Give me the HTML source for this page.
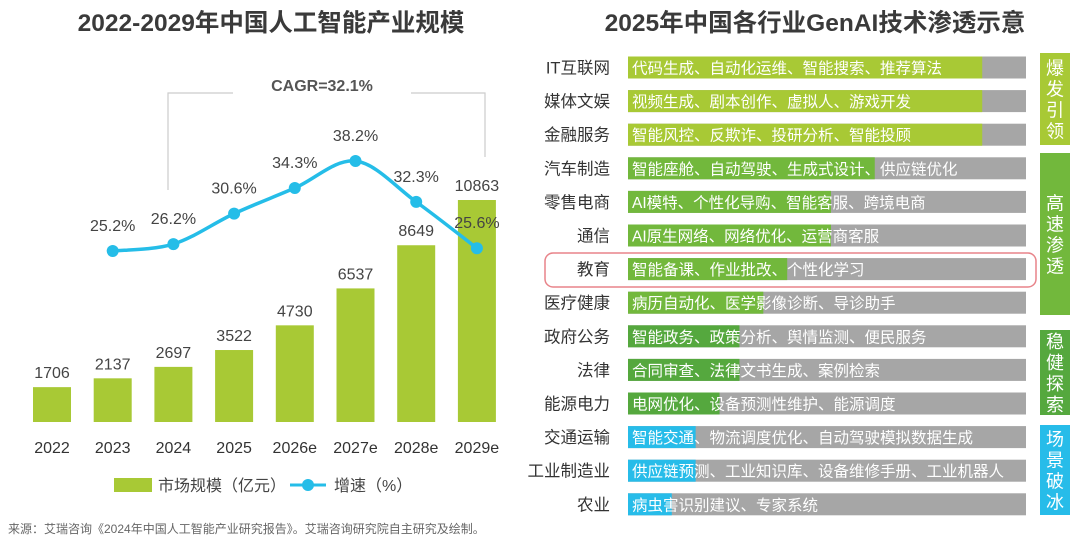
<!DOCTYPE html>
<html><head><meta charset="utf-8"><style>
body{margin:0;width:1080px;height:543px;background:#fff;overflow:hidden;font-family:"Liberation Sans","Noto Sans CJK SC",sans-serif;}
svg{position:absolute;left:0;top:0}
</style></head><body>
<svg id="s" width="1080" height="543" xmlns="http://www.w3.org/2000/svg">
<text x="271" y="31" text-anchor="middle" font-size="24.5" font-weight="bold" fill="#3a3a3a">2022-2029年中国人工智能产业规模</text>
<text x="815" y="31" text-anchor="middle" font-size="24.5" font-weight="bold" fill="#3a3a3a">2025年中国各行业GenAI技术渗透示意</text>
<g stroke="#ccc" fill="none" stroke-width="1.2">
<polyline points="168,190 168,93 233,93"/><polyline points="411,93 485,93 485,157"/>
</g>
<text x="322" y="91" text-anchor="middle" font-size="16" font-weight="bold" fill="#555">CAGR=32.1%</text>
<g id="left"></g><g id="right"></g>
<g>
<rect x="114" y="478" width="38" height="14" fill="#a8c935"/>
<text x="158" y="491" font-size="16" fill="#444">市场规模（亿元）</text>
<line x1="290" y1="485" x2="326" y2="485" stroke="#25bde8" stroke-width="3"/>
<circle cx="308" cy="485" r="6" fill="#25bde8"/>
<text x="334" y="491" font-size="16" fill="#444">增速（%）</text>
</g>
<rect x="545" y="253" width="491" height="34" rx="8" fill="none" stroke="#e8848a" stroke-width="1.5"/>
<text x="8" y="533" font-size="12" fill="#666">来源：艾瑞咨询《2024年中国人工智能产业研究报告》。艾瑞咨询研究院自主研究及绘制。</text>
</svg>
<script>
const years=["2022","2023","2024","2025","2026e","2027e","2028e","2029e"];
const sizes=[1706,2137,2697,3522,4730,6537,8649,10863];
const growth=[null,25.2,26.2,30.6,34.3,38.2,32.3,25.6];
const industries=["IT互联网","媒体文娱","金融服务","汽车制造","零售电商","通信","教育","医疗健康","政府公务","法律","能源电力","交通运输","工业制造业","农业"];
const apps=["代码生成、自动化运维、智能搜索、推荐算法","视频生成、剧本创作、虚拟人、游戏开发","智能风控、反欺诈、投研分析、智能投顾","智能座舱、自动驾驶、生成式设计、供应链优化","AI模特、个性化导购、智能客服、跨境电商","AI原生网络、网络优化、运营商客服","智能备课、作业批改、个性化学习","病历自动化、医学影像诊断、导诊助手","智能政务、政策分析、舆情监测、便民服务","合同审查、法律文书生成、案例检索","电网优化、设备预测性维护、能源调度","智能交通、物流调度优化、自动驾驶模拟数据生成","供应链预测、工业知识库、设备维修手册、工业机器人","病虫害识别建议、专家系统"];
const penetration=[89,89,89,62,51,51,40,34,28,28,23,17,17,11];
const groupOf=[0,0,0,1,1,1,1,1,2,2,2,3,3,3];
const groupNames=["爆发引领","高速渗透","稳健探索","场景破冰"];
const NS="http://www.w3.org/2000/svg";
function mk(t,a,p,txt){const e=document.createElementNS(NS,t);for(const k in a)e.setAttribute(k,a[k]);if(txt!=null)e.textContent=txt;p.appendChild(e);return e;}
const L=document.getElementById('left'),R=document.getElementById('right');
const xC=i=>52+i*60.7, base=422, yS=v=>base-v*222/10863, yG=v=>251-(v-25.2)*6.92;
years.forEach((y,i)=>{
 const b=mk('rect',{x:xC(i)-19,y:yS(sizes[i]),width:38,height:base-yS(sizes[i]),fill:'#a8c935'},L);
 
 
 const t=mk('text',{x:xC(i),y:yS(sizes[i])-9,'text-anchor':'middle','font-size':16,fill:'#444'},L,String(sizes[i]));
 
 
 const xl=mk('text',{x:xC(i),y:453,'text-anchor':'middle','font-size':16,fill:'#333'},L,y);
 
 
});
const pts=[];growth.forEach((g,i)=>{if(g!=null)pts.push([xC(i),yG(g),g,years[i]]);});
let d='M'+pts[0][0]+','+pts[0][1];
for(let i=0;i<pts.length-1;i++){const p0=pts[Math.max(0,i-1)],p1=pts[i],p2=pts[i+1],p3=pts[Math.min(pts.length-1,i+2)];
 d+=` C${p1[0]+(p2[0]-p0[0])/6},${p1[1]+(p2[1]-p0[1])/6} ${p2[0]-(p3[0]-p1[0])/6},${p2[1]-(p3[1]-p1[1])/6} ${p2[0]},${p2[1]}`;}
const ln=mk('path',{d:d,fill:'none',stroke:'#25bde8','stroke-width':3.5},L);


pts.forEach(p=>{
 const c=mk('circle',{cx:p[0],cy:p[1],r:6,fill:'#25bde8'},L);
 
 
 const t=mk('text',{x:p[0],y:p[1]-20,'text-anchor':'middle','font-size':16,fill:'#444'},L,p[2].toFixed(1)+'%');
 
 
});
const gColors=['#a8c935','#72b83c','#55a83e','#27bce9'];
const x0=628,x1=1026,rowY=i=>56.5+i*33.6,bh=22;
industries.forEach((n,i)=>{
 const y=rowY(i);
 const t=mk('text',{x:610,y:y+17,'text-anchor':'end','font-size':16.5,fill:'#333'},R,n);
 
 
 const bg=mk('rect',{x:x0,y:y,width:x1-x0,height:bh,fill:'#a6a6a6'},R);
 
 
 const f=mk('rect',{x:x0,y:y,width:(x1-x0)*penetration[i]/100,height:bh,fill:gColors[groupOf[i]]},R);
 
 
 const a=mk('text',{x:x0+4,y:y+17,'font-size':15.5,fill:'#fff'},R,apps[i]);
 
 
});
const tags=[[53,145],[153,315],[330,415],[425,515]];
tags.forEach((tg,g)=>{
 const r=mk('rect',{x:1040,y:tg[0],width:30,height:tg[1]-tg[0],fill:gColors[g]},R);
 
 
 const chars=groupNames[g].split(''),mid=(tg[0]+tg[1])/2;
 chars.forEach((c,k)=>{
  const t=mk('text',{x:1055,y:mid+(k-1.5)*21+7,'text-anchor':'middle','font-size':18,fill:'#fff'},R,c);
  
  
 });
});
</script>
</body></html>
